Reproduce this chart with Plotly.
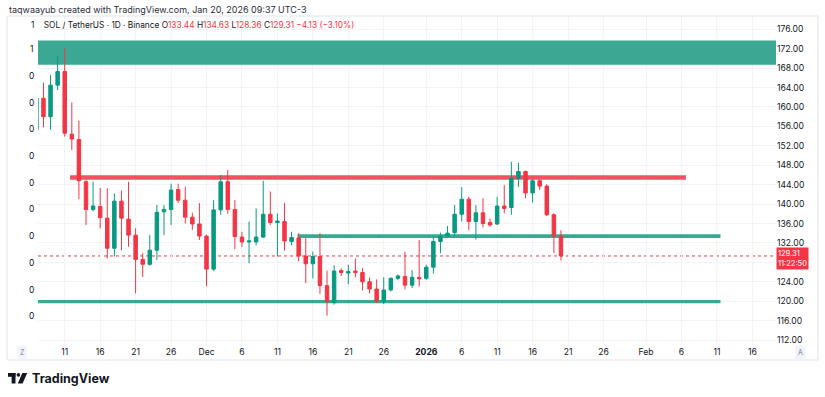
import plotly.graph_objects as go
import pandas as pd

# ---------------- data ----------------
dates = pd.date_range("2025-11-07", "2026-01-20", freq="D").strftime("%Y-%m-%d").tolist()

opens = [155.3, 161.8, 158.0, 164.5, 167.3, 154.4, 153.3, 144.6, 138.9, 139.5,
         137.1, 130.9, 140.6, 136.9, 133.6, 128.6, 127.6, 130.5, 138.4, 138.9,
         143.0, 140.8, 137.3, 135.9, 133.4, 126.6, 138.8, 144.6, 138.9, 133.2,
         132.2, 132.2, 133.2, 137.9, 136.2, 136.4, 132.3, 133.0, 129.3, 127.7,
         129.2, 123.2, 119.7, 126.3, 125.8, 126.2, 125.9, 124.0, 122.5, 120.0,
         122.3, 124.7, 125.1, 123.3, 124.9, 124.7, 127.0, 132.3, 133.4, 134.1,
         137.9, 141.0, 136.4, 138.2, 136.2, 135.9, 139.6, 139.3, 145.3, 146.7,
         142.3, 144.8, 143.7, 137.8, 133.44]
highs = [162.5, 165.0, 166.6, 170.5, 172.1, 160.9, 157.2, 145.0, 144.6, 143.3,
         143.3, 142.2, 142.8, 144.6, 135.0, 129.9, 133.6, 139.8, 139.8, 144.2,
         144.2, 143.6, 138.2, 140.2, 133.7, 140.8, 146.0, 147.0, 140.8, 134.3,
         136.4, 139.1, 144.8, 142.6, 138.1, 140.2, 134.3, 134.0, 133.0, 130.2,
         134.0, 126.3, 127.4, 126.8, 127.5, 128.8, 126.8, 124.9, 124.5, 124.9,
         124.9, 125.5, 130.2, 126.4, 132.6, 127.5, 133.3, 134.1, 135.5, 139.8,
         143.5, 141.5, 139.8, 141.2, 137.0, 141.5, 143.9, 148.7, 148.5, 146.9,
         145.1, 145.1, 144.1, 138.1, 134.63]
lows = [155.0, 155.8, 155.3, 163.5, 153.9, 151.1, 141.0, 135.7, 138.5, 135.0,
        128.8, 129.2, 130.5, 131.2, 121.6, 125.0, 127.3, 128.5, 133.6, 135.7,
        140.2, 136.0, 134.7, 132.6, 123.1, 126.2, 137.8, 138.0, 130.7, 131.2,
        127.8, 131.5, 133.0, 135.7, 129.2, 130.4, 131.5, 128.2, 123.7, 124.7,
        121.5, 117.0, 119.3, 125.2, 123.5, 124.9, 122.2, 121.6, 119.6, 119.4,
        122.0, 124.3, 122.4, 122.7, 123.0, 124.4, 125.7, 129.9, 133.2, 133.4,
        136.4, 134.6, 132.7, 135.2, 135.3, 135.7, 138.1, 137.8, 143.5, 141.2,
        140.3, 142.9, 137.5, 129.9, 128.36]
closes = [161.8, 158.0, 164.5, 167.3, 154.6, 153.4, 144.8, 138.9, 139.6, 137.2,
          130.9, 140.6, 137.1, 133.6, 128.6, 127.6, 130.5, 138.3, 138.9, 142.9,
          140.8, 137.3, 135.9, 133.4, 126.6, 138.8, 144.6, 138.9, 133.3, 132.2,
          132.4, 133.2, 137.9, 136.2, 136.5, 132.4, 133.1, 129.3, 127.7, 129.2,
          123.2, 119.9, 126.2, 125.9, 126.1, 125.9, 124.0, 122.5, 120.0, 122.3,
          124.7, 125.2, 123.3, 124.9, 124.6, 127.0, 132.3, 133.4, 134.0, 137.9,
          141.0, 136.4, 138.2, 136.0, 135.7, 139.6, 139.1, 145.3, 146.7, 142.3,
          144.8, 143.7, 137.8, 133.4, 129.31]

# drawn zones / levels  (start, end, low, high)
supply_zone = ("2025-11-06", "2026-03-01", 168.7, 173.7)
resistance = ("2025-11-11 18:00", "2026-02-06 15:00", 145.0, 145.95)
mid_support = ("2025-12-13 20:00", "2026-02-11 12:00", 133.0, 133.8)
low_support = ("2025-11-06", "2026-02-11 12:00", 119.55, 120.25)
last_price = 129.31
countdown = "11:22:50"

price_ticks = list(range(112, 177, 4))
hidden_price_ticks = [128]          # covered by the last-price label
time_tick_dates = ["2025-11-11", "2025-11-16", "2025-11-21", "2025-11-26", "2025-12-01",
                   "2025-12-06", "2025-12-11", "2025-12-16", "2025-12-21", "2025-12-26",
                   "2026-01-01", "2026-01-06", "2026-01-11", "2026-01-16", "2026-01-21",
                   "2026-01-26", "2026-02-01", "2026-02-06", "2026-02-11", "2026-02-16"]
time_tick_text = ["11", "16", "21", "26", "Dec", "6", "11", "16", "21", "26",
                  "<b>2026</b>", "6", "11", "16", "21", "26", "Feb", "6", "11", "16"]
left_scale_labels = ["1", "1", "0", "0", "0", "0", "0", "0", "0", "0", "0", "0"]

header = "taqwaayub created with TradingView.com, Jan 20, 2026 09:37 UTC-3"
symbol = "SOL / TetherUS · 1D · Binance"
ohlc_text = [("O", "133.44"), ("H", "134.63"), ("L", "128.36"), ("C", "129.31")]
change_text = "−4.13 (−3.10%)"

# ---------------- styling ----------------
GREEN = "#089981"
RED = "#f23645"
TEAL = "#3aa892"
LINE_RED = "#f0525f"
TXT = "#131722"
GRID = "#f1f3f6"
FONT = "Inter"

W, H = 825, 397
PL, PR, PT, PB = 38, 776, 16, 345   # plot area in pixels
LEFT_TOP_PX, LEFT_STEP_PX = 22.5, 26.7  # left scale label placement


def px(x, y):
    return (x - PL) / (PR - PL), (PB - y) / (PB - PT)


fig = go.Figure()
fig.add_trace(go.Candlestick(
    x=dates, open=opens, high=highs, low=lows, close=closes,
    increasing=dict(line=dict(color=GREEN, width=1), fillcolor=GREEN),
    decreasing=dict(line=dict(color=RED, width=1), fillcolor=RED),
    whiskerwidth=0, hoverinfo="skip", showlegend=False,
))

shapes = []
for (x0, x1, y0, y1), col in [(supply_zone, TEAL), (resistance, LINE_RED),
                              (mid_support, TEAL), (low_support, TEAL)]:
    shapes.append(dict(type="rect", xref="x", yref="y", x0=x0, x1=x1, y0=y0, y1=y1,
                       fillcolor=col, line=dict(width=0), layer="between"))
shapes.append(dict(type="line", xref="paper", yref="y", x0=0, x1=1,
                   y0=last_price, y1=last_price, layer="between",
                   line=dict(color=RED, width=1, dash="dot")))
# outer frame (drawn as four thin lines)
fx0, fy0 = px(7, 360)
fx1, fy1 = px(818, 16)
for a, b, c, d in [(fx0, fy0, fx1, fy0), (fx0, fy1, fx1, fy1),
                   (fx0, fy0, fx0, fy1), (fx1, fy0, fx1, fy1)]:
    shapes.append(dict(type="line", xref="paper", yref="paper", x0=a, y0=b, x1=c, y1=d,
                       line=dict(color="#e0e3eb", width=1)))


def rect_px(x0, y0, x1, y1, col):
    a, b = px(x0, y0)
    c, d = px(x1, y1)
    return dict(type="rect", xref="paper", yref="paper", x0=a, x1=c, y0=d, y1=b,
                fillcolor=col, line=dict(width=0))


# TradingView logo glyph
shapes.append(rect_px(8, 373, 15.5, 376.8, TXT))
shapes.append(rect_px(11.6, 373, 15.5, 383.5, TXT))
cx0, cy0 = px(16.6, 373.1)
cx1, cy1 = px(20.2, 376.7)
shapes.append(dict(type="circle", xref="paper", yref="paper", x0=cx0, x1=cx1, y0=cy1, y1=cy0,
                   fillcolor=TXT, line=dict(width=0)))
pts = [px(22.3, 373), px(27.2, 373), px(22.6, 383.5), px(17.8, 383.5)]
path = "M " + " L ".join(f"{a},{b}" for a, b in pts) + " Z"
shapes.append(dict(type="path", xref="paper", yref="paper", path=path,
                   fillcolor=TXT, line=dict(width=0)))

ann = []
hx, hy = px(7, 9)
ann.append(dict(x=hx, y=hy, xref="paper", yref="paper", xanchor="left", yanchor="middle",
                text=header, showarrow=False, font=dict(size=9, color="#2a2e39", family=FONT)))
# legend row; the first left-scale label shares this row
leg = left_scale_labels[0] + "&nbsp;" * 4 + symbol + " " + " ".join(
    f'{k}<span style="color:{RED}">{v}</span>' for k, v in ohlc_text) + \
    f' <span style="color:{RED}">{change_text}</span>'
lx, ly = px(28.5, 25)
ann.append(dict(x=lx, y=ly, xref="paper", yref="paper", xanchor="left", yanchor="middle",
                text=leg, showarrow=False, font=dict(size=8.3, color=TXT, family=FONT)))
# remaining left scale labels
for i, t in enumerate(left_scale_labels):
    if i == 0:
        continue
    ax, ay = px(31, LEFT_TOP_PX + LEFT_STEP_PX * i)
    ann.append(dict(x=ax, y=ay, xref="paper", yref="paper", xanchor="center", yanchor="middle",
                    text=t, showarrow=False, font=dict(size=8.5, color=TXT, family=FONT)))
for lab, xx in [("Z", 22), ("A", 800)]:
    ax, ay = px(xx, 352)
    ann.append(dict(x=ax, y=ay, xref="paper", yref="paper", xanchor="center", yanchor="middle",
                    text=lab, showarrow=False, bgcolor="#f0f3fa", borderpad=2,
                    font=dict(size=7, color="#787b86", family=FONT)))
ann.append(dict(x=1.0, y=last_price, xref="paper", yref="y", xanchor="left", yanchor="middle",
                yshift=-3, text=f"{last_price:.2f}<br>{countdown}", showarrow=False,
                bgcolor=RED, borderpad=1, align="left",
                font=dict(size=7.5, color="white", family=FONT)))
tx, ty = px(30, 378.5)
ann.append(dict(x=tx, y=ty, xref="paper", yref="paper", xanchor="left", yanchor="middle",
                text="<b>TradingView</b>", showarrow=False,
                font=dict(size=12.5, color=TXT, family=FONT)))

fig.update_layout(
    width=W, height=H,
    margin=dict(l=PL, r=W - PR, t=PT, b=H - PB),
    paper_bgcolor="white", plot_bgcolor="white",
    shapes=shapes, annotations=ann,
    font=dict(family=FONT, color=TXT, size=9),
    showlegend=False,
    xaxis=dict(type="date", range=["2025-11-07 05:30", "2026-02-19 08:00"],
               tickvals=time_tick_dates, ticktext=time_tick_text,
               showgrid=True, gridcolor=GRID, gridwidth=1, zeroline=False,
               showline=False, ticks="", tickfont=dict(size=8.6, color=TXT),
               rangeslider=dict(visible=False), fixedrange=True),
    yaxis=dict(side="right", range=[110.97, 178.74],
               tickvals=price_ticks,
               ticktext=["" if v in hidden_price_ticks else f"{v:.2f}" for v in price_ticks],
               showgrid=True, gridcolor=GRID, gridwidth=1, zeroline=False,
               showline=False, ticks="", tickfont=dict(size=8.6, color=TXT),
               fixedrange=True),
)

fig.write_html("out.html", config={"displayModeBar": False},
               post_script="document.body.style.margin='0';")
